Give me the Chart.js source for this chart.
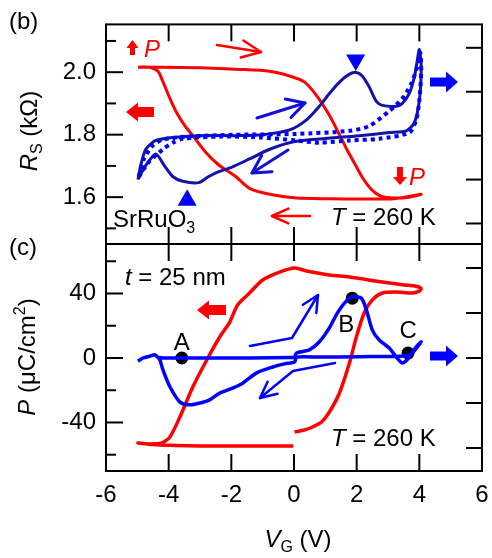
<!DOCTYPE html>
<html>
<head>
<meta charset="utf-8">
<script src="https://cdn.jsdelivr.net/npm/chart.js@4.4.0/dist/chart.umd.min.js"></script>
<style>
  html, body { margin: 0; padding: 0; background: #fff; }
  #wrap { position: relative; width: 492px; height: 558px; }
  #wrap canvas { position: absolute; left: 0; top: 0; }
</style>
</head>
<body>
<div id="wrap">
  <canvas id="rsChart" width="492" height="558"></canvas>
  <canvas id="polChart" width="492" height="558"></canvas>
</div>
<script>
// ---- axis ticks ----
const vgTicks = [-6, -4, -2, 0, 2, 4, 6];
const vgInner = [-4, -2, 0, 2, 4];
const rsMajor = [1.6, 1.8, 2.0];
const rsMinor = [1.5, 1.7, 1.9, 2.1];
const pMajor = [-40, 0, 40];
const pMinor = [-60, -20, 20, 60];
const rightTicksB = [0, 1, 2, 3, 4];
const rightTicksC = [-2, -1, 0, 1, 2];

// ---- (b) sheet resistance loop (red, left axis) ----
const rsV   = [-4.98, -4.28, -3.0, -1.73, -0.78, -0.14, 0.33, 0.72, 1.13, 1.45, 1.70, 1.96, 2.21, 2.47, 2.78, 3.20, 3.68, 4.06,
               3.20, 2.08, 1.13, 0.08, -0.78, -1.42, -1.86, -2.40, -2.82, -3.23, -3.48, -3.77, -3.96, -4.18, -4.34, -4.60, -4.98];
const rsVal = [2.016, 2.016, 2.014, 2.009, 2.003, 1.988, 1.969, 1.925, 1.862, 1.800, 1.750, 1.703, 1.659, 1.625, 1.603, 1.597, 1.600, 1.609,
               1.595, 1.594, 1.595, 1.597, 1.609, 1.628, 1.666, 1.703, 1.744, 1.797, 1.828, 1.875, 1.916, 1.969, 2.003, 2.016, 2.016];

// ---- (b) blue solid loop (right axis, arb. units) ----
const bSolV = [-4.98, -4.89, -4.73, -4.41, -3.87, -3.04, -1.86, -1.00, -0.14, 0.40, 0.81, 1.13, 1.45, 1.77, 1.99, 2.18, 2.40, 2.63, 2.82, 3.26, 3.45, 3.68, 3.84, 3.93, 4.00,
               4.06, 4.00, 3.84, 3.58, 3.04, 2.08, 0.59, -0.14, -0.78, -1.42, -1.96, -2.40, -2.72, -3.04, -3.55, -3.87, -4.15, -4.41, -4.76, -4.98];
const bSolY = [1.00, 1.33, 1.69, 1.89, 1.96, 2.00, 2.00, 2.02, 2.13, 2.36, 2.67, 2.96, 3.22, 3.40, 3.44, 3.36, 3.11, 2.78, 2.69, 2.67, 2.73, 2.96, 3.33, 3.69, 3.96,
               3.56, 2.80, 2.29, 2.11, 2.07, 2.00, 1.91, 1.84, 1.69, 1.47, 1.29, 1.18, 1.07, 0.93, 0.96, 1.07, 1.33, 1.58, 1.29, 1.00];

// ---- (b) blue dotted loop ----
const bDotV = [-4.95, -4.79, -4.50, -4.18, -3.36, -1.86, 0.08, 1.77, 2.40, 3.04, 3.45, 3.74, 3.93, 4.03,
               4.06, 4.00, 3.90, 3.68, 2.72, 1.77, 0.81, 0.08, -1.10, -2.37, -3.55, -3.87, -4.18, -4.63, -4.95];
const bDotY = [1.07, 1.47, 1.78, 1.91, 1.98, 2.02, 2.04, 2.11, 2.22, 2.56, 2.84, 3.18, 3.56, 3.89,
               3.47, 2.80, 2.36, 2.07, 1.93, 1.89, 1.84, 1.89, 1.96, 1.98, 1.93, 1.84, 1.69, 1.40, 1.07];

// ---- (b) triangle markers (right axis) ----
const triDownV = [1.97], triDownY = [3.72];
const triUpV = [-3.41], triUpY = [0.53];

// ---- (c) polarization loop (red, left axis) ----
const pV   = [0.02, 0.33, 0.59, 0.88, 1.13, 1.45, 1.77, 1.99, 2.24, 2.50, 2.82, 3.26, 3.77, 4.00, 4.06, 3.90, 3.52, 2.82, 1.77, 1.13, 0.40, 0.02,
              -0.46, -1.00, -1.42, -1.80, -2.05, -2.37, -2.75, -3.23, -3.64, -3.96, -4.22, -4.60, -4.98, -4.28, -3.0, -1.42, -0.02];
const pVal = [-45.9, -44.7, -42.8, -39.7, -33.5, -21.7, -3.1, 13.0, 27.9, 36.0, 40.3, 40.9, 40.3, 41.5, 43.0, 44.5, 45.3, 47.1, 50.2, 51.5, 54.0, 55.8,
              53.3, 48.4, 40.3, 32.9, 22.3, 13.0, 0.0, -18.0, -36.6, -49.0, -52.7, -53.3, -52.7, -54.0, -54.6, -54.6, -54.6];

// ---- (c) switching current (blue, right axis) ----
const iV   = [-4.98, -4.82, -4.60, -4.44, -4.35, -4.12, -3.0, -1.42, -0.05, 0.02, 0.08, 0.49, 0.81, 1.13, 1.35, 1.61, 1.86, 2.15, 2.31, 2.50, 2.72, 3.04, 3.29, 3.45, 3.61, 3.77, 3.93, 4.06,
              3.74, 3.36, 2.08, 0.81, 0.08, 0.02, -0.30, -0.68, -1.19, -1.64, -1.96, -2.37, -2.69, -3.0, -3.33, -3.64, -3.96, -4.18, -4.28, -4.35];
const iVal = [-0.07, 0.0, 0.04, 0.07, 0.02, 0.0, 0.0, 0.0, 0.01, 0.02, 0.11, 0.18, 0.36, 0.67, 0.96, 1.22, 1.36, 1.33, 1.07, 0.62, 0.40, 0.22, 0.0, -0.11, -0.04, 0.13, 0.27, 0.36,
              0.09, 0.04, 0.03, 0.02, 0.02, -0.09, -0.13, -0.20, -0.33, -0.56, -0.67, -0.78, -0.93, -1.0, -1.04, -0.98, -0.64, -0.27, -0.04, 0.02];

// ---- (c) labelled points A, B, C (right axis) ----
const markNames = ['A', 'B', 'C'];
const markV = [-3.58, 1.86, 3.64];
const markY = [0.0, 1.33, 0.11];

const FONT = "'Liberation Sans', Arial, sans-serif";
const RED = '#ff0000';
const BLUE = '#0000ff';
const NAVY = '#1414a8';

const pts = (xs, ys) => xs.map((x, i) => ({ x: x, y: ys[i] }));
const font = (size, italic) => (italic ? 'italic ' : '') + size + 'px ' + FONT;

function richText(ctx, parts, x, y, align) {
    let w = 0;
    parts.forEach(p => {
        ctx.font = font(p.size || 24, p.it);
        p.w = ctx.measureText(p.t).width;
        w += p.w;
    });
    let cx = align === 'center' ? x - w / 2 : (align === 'right' ? x - w : x);
    parts.forEach(p => {
        ctx.font = font(p.size || 24, p.it);
        ctx.fillText(p.t, cx, y + (p.dy || 0));
        cx += p.w;
    });
}

function blockArrow(ctx, x0, y0, x1, y1, shaft, headW, headL, color) {
    const ang = Math.atan2(y1 - y0, x1 - x0);
    const len = Math.hypot(x1 - x0, y1 - y0);
    ctx.save();
    ctx.translate(x0, y0);
    ctx.rotate(ang);
    ctx.beginPath();
    ctx.moveTo(0, -shaft / 2);
    ctx.lineTo(len - headL, -shaft / 2);
    ctx.lineTo(len - headL, -headW / 2);
    ctx.lineTo(len, 0);
    ctx.lineTo(len - headL, headW / 2);
    ctx.lineTo(len - headL, shaft / 2);
    ctx.lineTo(0, shaft / 2);
    ctx.closePath();
    ctx.fillStyle = color;
    ctx.fill();
    ctx.restore();
}

function lineArrow(ctx, path, color, lw, headLen, headAng) {
    ctx.save();
    ctx.strokeStyle = color;
    ctx.lineWidth = lw;
    ctx.lineCap = 'round';
    ctx.lineJoin = 'round';
    ctx.beginPath();
    ctx.moveTo(path[0][0], path[0][1]);
    path.slice(1).forEach(p => ctx.lineTo(p[0], p[1]));
    ctx.stroke();
    const [xa, ya] = path[path.length - 2];
    const [xb, yb] = path[path.length - 1];
    const a = Math.atan2(yb - ya, xb - xa);
    ctx.beginPath();
    ctx.moveTo(xb - headLen * Math.cos(a - headAng), yb - headLen * Math.sin(a - headAng));
    ctx.lineTo(xb, yb);
    ctx.lineTo(xb - headLen * Math.cos(a + headAng), yb - headLen * Math.sin(a + headAng));
    ctx.stroke();
    ctx.restore();
}

// frame with inward ticks on all four sides
const framePlugin = {
    id: 'frame',
    afterDatasetsDraw(chart, args, opts) {
        const { ctx, chartArea: a, scales } = chart;
        ctx.save();
        ctx.strokeStyle = '#000';
        ctx.lineWidth = 2;
        ctx.strokeRect(a.left, a.top, a.right - a.left, a.bottom - a.top);
        const tick = (x0, y0, x1, y1) => {
            ctx.beginPath();
            ctx.moveTo(x0, y0);
            ctx.lineTo(x1, y1);
            ctx.stroke();
        };
        vgInner.forEach(v => {
            const px = scales.x.getPixelForValue(v);
            tick(px, a.top, px, a.top + 17);
            tick(px, a.bottom, px, a.bottom - 17);
        });
        opts.major.forEach(v => {
            const py = scales.y.getPixelForValue(v);
            tick(a.left, py, a.left + 17, py);
        });
        opts.minor.forEach(v => {
            const py = scales.y.getPixelForValue(v);
            tick(a.left, py, a.left + 10, py);
        });
        opts.right.forEach(v => {
            const py = scales.y2.getPixelForValue(v);
            tick(a.right, py, a.right - 16, py);
        });
        ctx.restore();
    }
};

const baseOptions = (padding) => ({
    responsive: false,
    animation: false,
    events: [],
    layout: { padding: padding, autoPadding: false },
    plugins: { legend: { display: false }, tooltip: { enabled: false } }
});

const leftAxis = (min, max, ticks, digits) => ({
    type: 'linear',
    position: 'left',
    min: min,
    max: max,
    afterBuildTicks: s => { s.ticks = ticks.map(v => ({ value: v })); },
    afterFit: s => { s.width = 106; },
    grid: { display: false, drawTicks: false },
    border: { display: false },
    ticks: { color: '#000', font: { family: FONT, size: 24 }, padding: 10, callback: v => v.toFixed(digits) }
});

// unlabeled right axis: only reserves the 10 px margin, its ticks come from the frame plugin
const rightAxis = (min, max) => ({
    type: 'linear',
    position: 'right',
    min: min,
    max: max,
    afterFit: s => { s.width = 10; },
    grid: { display: false, drawTicks: false },
    border: { display: false },
    ticks: { display: false }
});

// ================= panel (b) =================
const notesB = {
    id: 'notesB',
    afterDraw(chart) {
        const ctx = chart.ctx;
        ctx.save();
        ctx.textBaseline = 'alphabetic';
        ctx.fillStyle = '#000';
        richText(ctx, [{ t: '(b)' }], 9, 29, 'left');
        // y title
        ctx.save();
        ctx.translate(37, 131);
        ctx.rotate(-Math.PI / 2);
        richText(ctx, [{ t: 'R', it: true }, { t: 'S', size: 16, dy: 5 }, { t: ' (k\u03A9)' }], 0, 0, 'center');
        ctx.restore();
        richText(ctx, [{ t: 'SrRuO' }, { t: '3', size: 16, dy: 6 }], 113, 227, 'left');
        richText(ctx, [{ t: 'T', it: true }, { t: ' = 260 K' }], 331, 225, 'left');
        ctx.fillStyle = RED;
        richText(ctx, [{ t: 'P', it: true }], 144, 57, 'left');
        richText(ctx, [{ t: 'P', it: true }], 409, 185, 'left');
        blockArrow(ctx, 132.5, 55, 132.5, 40, 5, 12, 8, RED);
        blockArrow(ctx, 400, 167, 400, 185, 6, 14, 8, RED);
        blockArrow(ctx, 154, 112, 126, 112, 10, 19, 12, RED);
        blockArrow(ctx, 430, 82, 458, 82, 9, 21, 12, BLUE);
        lineArrow(ctx, [[217, 45], [261, 52]], RED, 2.5, 21, 0.42);
        lineArrow(ctx, [[310, 216], [272, 216]], RED, 2.5, 18, 0.42);
        lineArrow(ctx, [[257, 118], [305, 103]], '#1010d8', 3, 20, 0.5);
        lineArrow(ctx, [[288, 150], [252, 173]], '#1010d8', 3, 20, 0.5);
        ctx.restore();
    }
};

new Chart(document.getElementById('rsChart'), {
    type: 'scatter',
    data: {
        datasets: [
            { data: pts(bDotV, bDotY), yAxisID: 'y2', showLine: true, borderColor: BLUE, borderWidth: 4, borderDash: [4, 4], pointRadius: 0, tension: 0.25 },
            { data: pts(bSolV, bSolY), yAxisID: 'y2', showLine: true, borderColor: NAVY, borderWidth: 3, pointRadius: 0, tension: 0.25 },
            { data: pts(rsV, rsVal), yAxisID: 'y', showLine: true, borderColor: RED, borderWidth: 3, pointRadius: 0, tension: 0.25 },
            { data: pts(triDownV, triDownY), yAxisID: 'y2', pointStyle: 'triangle', rotation: 180, pointRadius: 11, backgroundColor: BLUE, borderWidth: 0 },
            { data: pts(triUpV, triUpY), yAxisID: 'y2', pointStyle: 'triangle', rotation: 0, pointRadius: 11, backgroundColor: BLUE, borderWidth: 0 }
        ]
    },
    options: Object.assign(baseOptions({ left: 0, right: 0, top: 19, bottom: 314 }), {
        scales: {
            x: { type: 'linear', min: -6, max: 6, display: false },
            y: leftAxis(1.45, 2.153, rsMajor, 1),
            y2: rightAxis(-0.467, 4.533)
        },
        plugins: { legend: { display: false }, tooltip: { enabled: false }, frame: { major: rsMajor, minor: rsMinor, right: rightTicksB } }
    }),
    plugins: [framePlugin, notesB]
});

// ================= panel (c) =================
const notesC = {
    id: 'notesC',
    afterDraw(chart) {
        const ctx = chart.ctx;
        const { x, y2 } = chart.scales;
        ctx.save();
        ctx.textBaseline = 'alphabetic';
        ctx.fillStyle = '#000';
        richText(ctx, [{ t: '(c)' }], 9, 255, 'left');
        ctx.save();
        ctx.translate(35, 357);
        ctx.rotate(-Math.PI / 2);
        richText(ctx, [{ t: 'P', it: true }, { t: ' (\u03BCC/cm' }, { t: '2', size: 16, dy: -10 }, { t: ')' }], 0, 0, 'center');
        ctx.restore();
        richText(ctx, [{ t: 'V', it: true }, { t: 'G', size: 16, dy: 5 }, { t: ' (V)' }], 298, 547, 'center');
        richText(ctx, [{ t: 't', it: true }, { t: ' = 25 nm' }], 125, 285, 'left');
        richText(ctx, [{ t: 'T', it: true }, { t: ' = 260 K' }], 331, 446, 'left');
        const offs = [[0, -8], [-6, 34], [0, -15]];
        markNames.forEach((n, i) => {
            const px = x.getPixelForValue(markV[i]) + offs[i][0];
            const py = y2.getPixelForValue(markY[i]) + offs[i][1];
            richText(ctx, [{ t: n }], px, py, 'center');
        });
        blockArrow(ctx, 226, 310, 197, 310, 10, 19, 12, RED);
        blockArrow(ctx, 430, 356, 458, 356, 9, 21, 12, BLUE);
        lineArrow(ctx, [[250, 346], [292, 338], [318, 295]], BLUE, 2.5, 18, 0.45);
        lineArrow(ctx, [[335, 363], [293, 371], [260, 398]], BLUE, 2.5, 18, 0.45);
        ctx.restore();
    }
};

new Chart(document.getElementById('polChart'), {
    type: 'scatter',
    data: {
        datasets: [
            { data: pts(iV, iVal), yAxisID: 'y2', showLine: true, borderColor: BLUE, borderWidth: 3.5, pointRadius: 0, tension: 0.25 },
            { data: pts(pV, pVal), yAxisID: 'y', showLine: true, borderColor: RED, borderWidth: 3.5, pointRadius: 0, tension: 0.25 },
            { data: pts(markV, markY), yAxisID: 'y2', pointRadius: 6.5, backgroundColor: '#000', borderWidth: 0 }
        ]
    },
    options: Object.assign(baseOptions({ left: 0, right: 0, top: 244, bottom: 0 }), {
        scales: {
            x: {
                type: 'linear', position: 'bottom', min: -6, max: 6,
                afterBuildTicks: s => { s.ticks = vgTicks.map(v => ({ value: v })); },
                // fixed height; end labels may overhang, so drop the label padding
                afterFit: s => { s.height = 87; s.paddingLeft = 0; s.paddingRight = 0; },
                grid: { display: false, drawTicks: false },
                border: { display: false },
                ticks: { color: '#000', font: { family: FONT, size: 24 }, padding: 10, maxRotation: 0, callback: v => String(v) }
            },
            y: leftAxis(-70.1, 70.7, pMajor, 0),
            y2: rightAxis(-2.511, 2.533)
        },
        plugins: { legend: { display: false }, tooltip: { enabled: false }, frame: { major: pMajor, minor: pMinor, right: rightTicksC } }
    }),
    plugins: [framePlugin, notesC]
});
</script>
</body>
</html>
